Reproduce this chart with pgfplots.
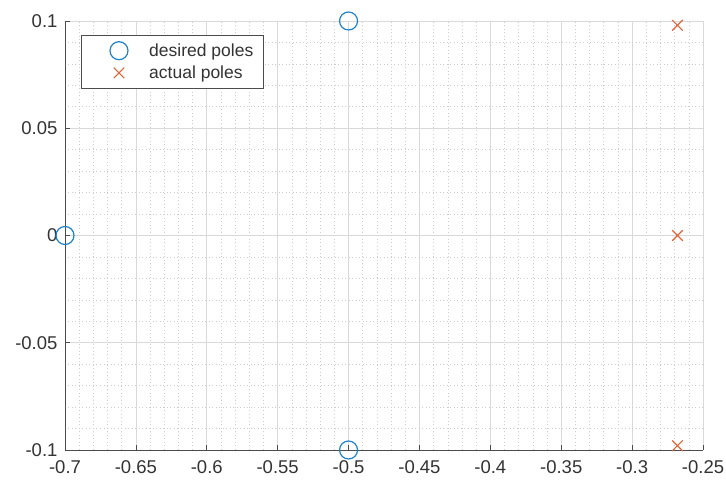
\documentclass[border=0pt]{standalone}
\usepackage{pgfplots}
\pgfplotsset{compat=1.18}
\usepackage{fontspec}
\setmainfont{Liberation Sans}
\definecolor{mblue}{RGB}{30,130,200}
\definecolor{morange}{RGB}{225,100,55}
\begin{document}
\begin{tikzpicture}
\path[use as bounding box] (-65pt,-34pt) rectangle (661pt,450pt);
\begin{axis}[
  at={(0pt,0pt)}, anchor=south west,
  scale only axis, width=638pt, height=429pt,
  xmin=-0.7, xmax=-0.25, ymin=-0.1, ymax=0.1,
  axis x line*=bottom, axis y line*=left,
  axis line style={black!70, line width=0.9pt},
  xtick={-0.7,-0.65,-0.6,-0.55,-0.5,-0.45,-0.4,-0.35,-0.3,-0.25},
  xticklabels={-0.7,-0.65,-0.6,-0.55,-0.5,-0.45,-0.4,-0.35,-0.3,-0.25},
  ytick={-0.1,-0.05,0,0.05,0.1},
  yticklabels={-0.1,-0.05,0,0.05,0.1},
  minor x tick num=4, minor y tick num=4,
  minor tick length=0pt, major tick length=5pt,
  tick align=inside, tick style={black!70, line width=0.6pt},
  grid=both,
  major grid style={black!15, line width=0.7pt},
  minor grid style={black!20, dash pattern=on 1pt off 2.5pt, line width=0.6pt},
  ticklabel style={font=\fontsize{18.5}{18.5}\selectfont, text=black!80},
  xticklabel style={yshift=-7pt},
  yticklabel style={xshift=-4pt},
  clip marker paths=false, clip=false,
  legend style={at={(axis description cs:0.025,0.967)}, anchor=north west,
    draw=black!70, line width=0.9pt, fill=white, font=\fontsize{17.5}{20}\selectfont,
    inner xsep=8pt, inner ysep=6pt, row sep=4pt, text=black!80},
  legend cell align=left,
  legend image code/.code={\path (0pt,0pt); \draw[#1] (29pt,0pt) -- plot coordinates {(29pt,0pt)};},
]
\addplot[only marks, mark=o, mark size=9pt, draw=mblue, line width=1.2pt]
  coordinates {(-0.7,0) (-0.5,0.1) (-0.5,-0.1)};
\addlegendentry{\hspace{1.1em}desired poles}
\addplot[only marks, mark=x, mark size=7.5pt, draw=morange, line width=1.1pt]
  coordinates {(-0.268,0.098) (-0.268,0) (-0.268,-0.098)};
\addlegendentry{\hspace{1.1em}actual poles}
\end{axis}
\end{tikzpicture}
\end{document}
